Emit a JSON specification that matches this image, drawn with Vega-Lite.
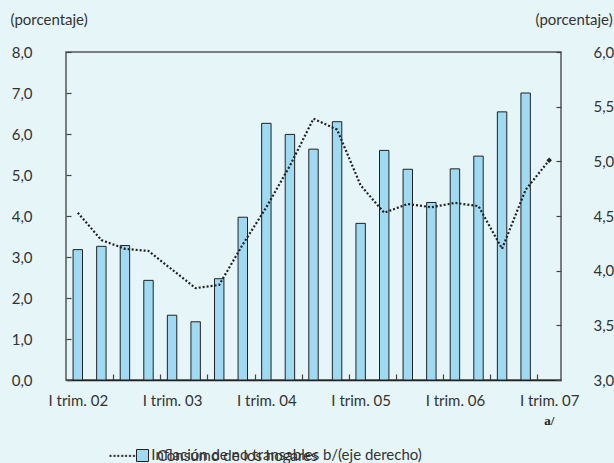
{
  "$schema": "https://vega.github.io/schema/vega-lite/v6.json",
  "width": 495,
  "height": 328,
  "autosize": "none",
  "padding": {"left": 66, "top": 52, "right": 53, "bottom": 83},
  "background": "#e6f5f8",
  "config": {
    "view": {"stroke": "#555555", "strokeWidth": 1.5},
    "font": "Lato",
    "axis": {
      "labelFont": "Lato", "labelFontSize": 15, "labelColor": "#333333",
      "titleFont": "Lato", "titleFontSize": 15, "titleColor": "#333333", "titleFontWeight": "normal",
      "grid": false, "tickColor": "#444444", "tickWidth": 1.2
    },
    "legend": {
      "labelFont": "Lato", "labelFontSize": 15, "labelColor": "#333333", "labelLimit": 500,
      "padding": 0
    }
  },
  "data": {
    "values": [
      {"q": "2002-1", "cons": 3.18, "infl": 4.53},
      {"q": "2002-2", "cons": 3.26, "infl": 4.28},
      {"q": "2002-3", "cons": 3.28, "infl": 4.20},
      {"q": "2002-4", "cons": 2.43, "infl": 4.18},
      {"q": "2003-1", "cons": 1.58, "infl": 4.01},
      {"q": "2003-2", "cons": 1.42, "infl": 3.84},
      {"q": "2003-3", "cons": 2.47, "infl": 3.87},
      {"q": "2003-4", "cons": 3.97, "infl": 4.24},
      {"q": "2004-1", "cons": 6.26, "infl": 4.58},
      {"q": "2004-2", "cons": 5.99, "infl": 4.96},
      {"q": "2004-3", "cons": 5.63, "infl": 5.39},
      {"q": "2004-4", "cons": 6.30, "infl": 5.29},
      {"q": "2005-1", "cons": 3.82, "infl": 4.78},
      {"q": "2005-2", "cons": 5.60, "infl": 4.53},
      {"q": "2005-3", "cons": 5.14, "infl": 4.61},
      {"q": "2005-4", "cons": 4.33, "infl": 4.58},
      {"q": "2006-1", "cons": 5.15, "infl": 4.62},
      {"q": "2006-2", "cons": 5.46, "infl": 4.59},
      {"q": "2006-3", "cons": 6.54, "infl": 4.20},
      {"q": "2006-4", "cons": 7.00, "infl": 4.74},
      {"q": "2007-1", "cons": null, "infl": 5.01}
    ]
  },
  "layer": [
    {
      "mark": {"type": "bar", "stroke": "#222222", "strokeWidth": 1, "width": {"band": 0.4}},
      "encoding": {
        "x": {
          "field": "q", "type": "ordinal",
          "scale": {"paddingInner": 0, "paddingOuter": 0},
          "axis": {
            "title": null, "labelAngle": 0, "labelOverlap": false, "labelBound": false,
            "tickBand": "extent", "tickSize": -6,
            "tickOpacity": {"condition": {"test": "isString(datum.value) && (slice(datum.value, 5) == '2' || slice(datum.value, 5) == '4')", "value": 1}, "value": 0},
            "labelExpr": "isString(datum.value) && slice(datum.value, 5) == '1' ? 'I trim. ' + slice(datum.value, 2, 4) : ''",
            "labelPadding": 19, "labelBaseline": "top",
            "domainColor": "#222222", "domainWidth": 1.5
          }
        },
        "y": {
          "field": "cons", "type": "quantitative",
          "scale": {"domain": [0, 8], "nice": false},
          "axis": {
            "title": "(porcentaje)", "titleAngle": 0, "titleAlign": "left", "titleBaseline": "middle",
            "titleX": -56, "titleY": -33,
            "values": [0, 1, 2, 3, 4, 5, 6, 7, 8],
            "labelExpr": "replace(format(datum.value, '.1f'), '.', ',')",
            "tickSize": -5, "labelPadding": 39, "domain": false
          }
        },
        "fill": {
          "datum": "Consumo de los hogares",
          "scale": {"range": ["#9fdaf3"]},
          "legend": {
            "title": null, "orient": "none", "symbolType": "square", "symbolSize": 144,
            "symbolStrokeColor": "#222222", "symbolStrokeWidth": 1,
            "labelOffset": 7, "legendX": 69, "legendY": 396
          }
        }
      }
    },
    {
      "mark": {"type": "line", "color": "#222222", "strokeWidth": 2.2, "strokeCap": "butt", "strokeDash": [2, 2]},
      "encoding": {
        "x": {
          "field": "q", "type": "ordinal",
          "axis": {
            "orient": "bottom", "values": ["2007-1"], "labelExpr": "'a/'",
            "ticks": false, "domain": false, "labelPadding": 34, "labelBaseline": "top",
            "labelFont": "Liberation Serif", "labelFontWeight": "bold", "labelFontSize": 13,
            "labelColor": "#222222", "labelAngle": 0,
            "title": "··········  Inflación de no transables b/(eje derecho)",
            "titleAngle": 0, "titleAlign": "left", "titleBaseline": "middle",
            "titleX": 42, "titleY": 74
          }
        },
        "y": {
          "field": "infl", "type": "quantitative",
          "scale": {"domain": [3, 6], "nice": false},
          "axis": {
            "orient": "right",
            "title": "(porcentaje)", "titleAngle": 0, "titleAlign": "left", "titleBaseline": "middle",
            "titleX": -26, "titleY": -33,
            "values": [3, 3.5, 4, 4.5, 5, 5.5, 6],
            "labelExpr": "replace(format(datum.value, '.1f'), '.', ',')",
            "tickSize": -5, "labelPadding": 37, "labelAlign": "left", "domain": false
          }
        }
      }
    },
    {
      "transform": [{"filter": "datum.q == '2007-1'"}],
      "mark": {"type": "point", "shape": "diamond", "filled": true, "color": "#222222", "size": 30, "opacity": 1},
      "encoding": {
        "x": {"field": "q", "type": "ordinal", "axis": null},
        "y": {"field": "infl", "type": "quantitative", "scale": {"domain": [3, 6], "nice": false}, "axis": null}
      }
    }
  ],
  "resolve": {"scale": {"y": "independent"}, "axis": {"x": "independent"}}
}
